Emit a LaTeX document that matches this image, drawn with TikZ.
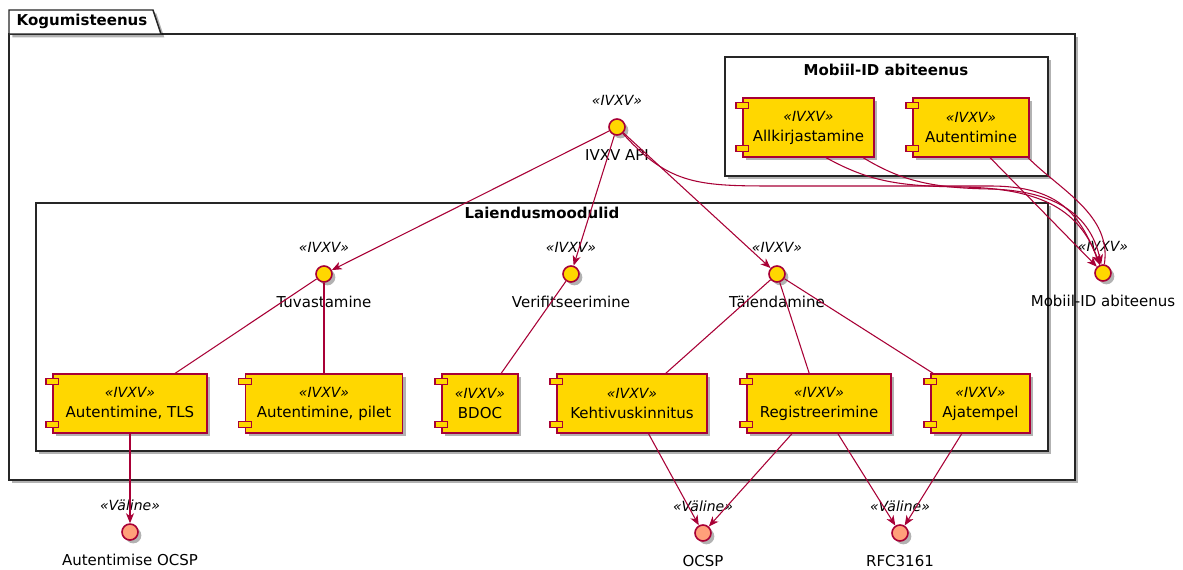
\documentclass[tikz,border=0pt]{standalone}
\usepackage{fontspec}
\setmainfont{DejaVu Sans}
\usetikzlibrary{arrows.meta,positioning,shadows}

\definecolor{linkred}{HTML}{A80036}
\definecolor{ivxvgold}{HTML}{FFD700}
\definecolor{valine}{HTML}{FFA07A}
\newcommand{\upx}{0.75pt}
\newcommand{\stereo}[1]{{\fontsize{10.5}{12}\selectfont\itshape «#1»}}

\begin{document}
\begin{tikzpicture}[
  x=0.75pt,y=-0.75pt,
  on grid,
  >={Stealth[length=7.5pt,width=6pt,inset=2.2pt]},
  every node/.style={font=\fontsize{11.25}{15}\selectfont},
  every label/.style={inner sep=0pt},
  softshadow/.style={drop shadow={shadow xshift=2.5pt,shadow yshift=-2.5pt,opacity=0.3,fill=black}},
  frame/.style={draw=black!85,line width=1.1pt,fill=white,softshadow},
  boxtitle/.style={font=\fontsize{11.25}{15}\selectfont\bfseries},
  comp/.style={rectangle,draw=linkred,fill=ivxvgold,line width=0.9pt,
    minimum height=59*\upx,inner sep=0pt,align=center,softshadow},
  comptab/.style={draw=linkred,fill=ivxvgold,line width=0.9pt},
  intf/.style={circle,draw=linkred,fill=ivxvgold,line width=1.2pt,
    minimum size=16*\upx,inner sep=0pt,softshadow},
  extintf/.style={intf,fill=valine},
  stype/.style={label={[label distance=9pt]above:\stereo{#1}}},
  iname/.style={label={[label distance=10pt]below:{#1}}},
  link/.style={draw=linkred,line width=0.8pt}]
  \useasboundingbox (0,0) rectangle (1183,569);
  % package with its two inner frames
  \draw[frame] (9,34) rectangle (1075,480);
  \draw[frame] (9,34) -- (9,10) -- (153,10) -- (161,34) -- cycle;
  \node[boxtitle,anchor=west] (pkgname) at (12,21) {Kogumisteenus};
  \draw[frame] (725,57) rectangle (1048,176);
  \node[boxtitle] (midtitle) at (886,70) {Mobiil-ID abiteenus};
  \draw[frame] (36,203) rectangle (1048,451);
  \node[boxtitle] (laitile) at (542,213) {Laiendusmoodulid};

  % interfaces
  \node[intf,stype=IVXV,iname={IVXV API}] (api) at (617,127) {};
  \node[intf,stype=IVXV,iname=Tuvastamine] (tuv) at (324,274) {};
  \node[intf,stype=IVXV,iname=Verifitseerimine] (verif) at (571,274) {};
  \node[intf,stype=IVXV,iname=Täiendamine] (taiend) at (777,274) {};
  \node[intf,stype=IVXV,iname={Mobiil-ID abiteenus}] (mid) at (1103,273) {};

  % components
  \node[comp,minimum width=131*\upx] (allk) at (808.5,127.5) {\stereo{IVXV}\\Allkirjastamine};
  \node[comp,minimum width=116*\upx] (autm) at (971,127.5) {\stereo{IVXV}\\Autentimine};
  \node[comp,minimum width=154*\upx] (tls) at (130,403.5) {\stereo{IVXV}\\Autentimine, TLS};
  \node[comp,minimum width=157*\upx,below=97.1pt of tuv] (pilet) {\stereo{IVXV}\\Autentimine, pilet};
  \node[comp,minimum width=76*\upx] (bdoc) at (480,403.5) {\stereo{IVXV}\\BDOC};
  \node[comp,minimum width=150*\upx] (kehtiv) at (632,403.5) {\stereo{IVXV}\\Kehtivuskinnitus};
  \node[comp,minimum width=144*\upx] (reg) at (819,403.5) {\stereo{IVXV}\\Registreerimine};
  \node[comp,minimum width=99*\upx] (ajat) at (980.5,403.5) {\stereo{IVXV}\\Ajatempel};
  \foreach \c in {allk,autm,tls,pilet,bdoc,kehtiv,reg,ajat}{
    \draw[comptab] ([xshift=-4.75pt,yshift=-3.75pt]\c.north west) rectangle ++(9.5pt,-4.5pt);
    \draw[comptab] ([xshift=-4.75pt,yshift=4.5pt]\c.south west) rectangle ++(9.5pt,4.5pt);
  }

  % external services
  \node[extintf,stype=Väline,iname={Autentimise OCSP},below=96.4pt of tls] (autocsp) {};
  \node[extintf,stype=Väline,iname=OCSP] (ocsp) at (703,533) {};
  \node[extintf,stype=Väline,iname=RFC3161] (rfc) at (900,533) {};

  % connectors
  \draw[link,->] (api) -- (tuv);
  \draw[link,->] (api) -- (verif);
  \draw[link,->] (api) -- (taiend);
  \draw[link] (tuv) -- (tls);
  \draw[link] (tuv) -- (pilet);
  \draw[link] (verif) -- (bdoc);
  \draw[link] (taiend) -- (kehtiv);
  \draw[link] (taiend) -- (reg);
  \draw[link] (taiend) -- (ajat);
  \draw[link,->] (tls) -- (autocsp);
  \draw[link,->] (kehtiv) -- (ocsp);
  \draw[link,->] (reg) -- (ocsp);
  \draw[link,->] (reg) -- (rfc);
  \draw[link,->] (ajat) -- (rfc);
  \draw[link,->] (api) .. controls (670,186) and (700,186) .. (780,186)
    -- (990,186) .. controls (1060,186) and (1080,215) .. (mid);
  \draw[link,->] ([xshift=13.1pt]allk.south) .. controls (870,182) and (900,186) .. (960,187)
    .. controls (1045,188) and (1080,212) .. (mid);
  \draw[link,->] ([xshift=40.9pt]allk.south) .. controls (900,180) and (930,188) .. (990,189)
    .. controls (1065,191) and (1092,222) .. (mid);
  \draw[link,->] ([xshift=14.25pt]autm.south) -- (mid);
  \draw[link] ([xshift=42.75pt]autm.south) .. controls (1060,190) and (1112,215) .. (mid);
\end{tikzpicture}
\end{document}
